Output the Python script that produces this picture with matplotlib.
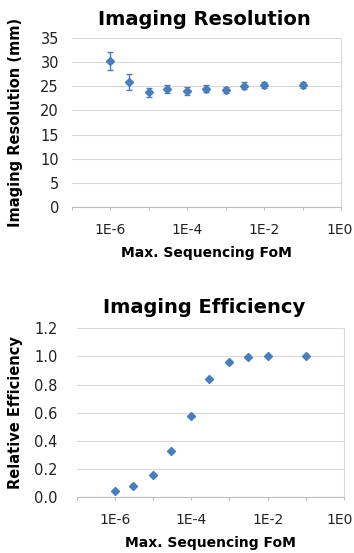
import matplotlib
matplotlib.use("Agg")
import matplotlib.pyplot as plt
import matplotlib.transforms as mtransforms
import numpy as np
from matplotlib.ticker import FixedLocator, FixedFormatter, NullLocator

fom = [1e-6, 3e-6, 1e-5, 3e-5, 1e-4, 3e-4, 1e-3, 3e-3, 1e-2, 1e-1]
resolution = [30.2, 25.9, 23.7, 24.4, 24.0, 24.5, 24.2, 25.1, 25.2, 25.2]
resolution_err = [1.9, 1.7, 1.0, 0.9, 0.8, 0.7, 0.7, 0.7, 0.6, 0.6]
efficiency = [0.043, 0.083, 0.156, 0.331, 0.58, 0.838, 0.961, 0.999, 1.003, 1.003]

x_ticks = [1e-7, 1e-6, 1e-5, 1e-4, 1e-3, 1e-2, 1e-1, 1e0]
x_labels = ["", "1E-6", "", "1E-4", "", "1E-2", "", "1E0"]
res_ticks = [0, 5, 10, 15, 20, 25, 30, 35]
eff_ticks = [0.0, 0.2, 0.4, 0.6, 0.8, 1.0, 1.2]

plt.rcParams['font.family'] = ['DejaVu Sans']
blue = "#4A7EBB"
grid = "#D9D9D9"

fig = plt.figure(figsize=(3.54, 5.53), dpi=100)
ax1 = fig.add_axes([72/354, 1-207.3/553, 269/354, 169.6/553])
ax2 = fig.add_axes([76.7/354, 1-497.3/553, 267.3/354, 169/553])

def style(ax, yticks, fmt, ypad, left_px, width_px, last_shift):
    ax.set_xscale("log")
    ax.set_xlim(1e-7, 1e0)
    ax.set_ylim(yticks[0], yticks[-1])
    ax.xaxis.set_major_locator(FixedLocator(x_ticks))
    ax.xaxis.set_major_formatter(FixedFormatter(x_labels))
    ax.xaxis.set_minor_locator(NullLocator())
    ax.set_yticks(yticks)
    ax.set_yticklabels([fmt.format(v) for v in yticks])
    for s in ["left", "top"]:
        ax.spines[s].set_visible(False)
    ax.spines["bottom"].set_color("#BFBFBF")
    ax.spines["right"].set_color(grid)
    ax.spines["bottom"].set_linewidth(0.8)
    ax.spines["right"].set_linewidth(0.8)
    ax.yaxis.grid(True, color=grid, linewidth=0.8)
    ax.set_axisbelow(True)
    ax.tick_params(axis="y", length=0, labelsize=10.5, pad=ypad, colors="#222222")
    ax.tick_params(axis="x", length=2, color="#BFBFBF", labelsize=10, pad=9, labelcolor="#222222")
    ax.set_xlabel("Max. Sequencing FoM", fontsize=10, fontweight="bold", labelpad=7)
    ax.yaxis.set_label_coords((23 - left_px) / width_px, 0.5)
    if last_shift:
        lab = ax.get_xticklabels()[-1]
        lab.set_transform(lab.get_transform() +
                          mtransforms.ScaledTranslation(-last_shift / 100, 0, fig.dpi_scale_trans))

style(ax1, res_ticks, "{:d}", 9.4, 72, 269, 1)
ax1.errorbar(fom, resolution, yerr=resolution_err, fmt="D", color=blue,
             markersize=3.8, elinewidth=1, capsize=2, capthick=1, zorder=3, clip_on=False)
ax1.set_title("Imaging Resolution", fontsize=14, fontweight="bold", pad=9.5, x=0.491)
ax1.set_ylabel("Imaging Resolution (mm)", fontsize=10.5, fontweight="bold")

style(ax2, eff_ticks, "{:.1f}", 13.7, 76.7, 267.3, 4)
ax2.plot(fom, efficiency, "D", color=blue, markersize=3.8, zorder=3, clip_on=False)
ax2.set_title("Imaging Efficiency", fontsize=14, fontweight="bold", pad=11, x=0.476)
ax2.set_ylabel("Relative Efficiency", fontsize=10.5, fontweight="bold")

fig.savefig("out.png", dpi=100)
